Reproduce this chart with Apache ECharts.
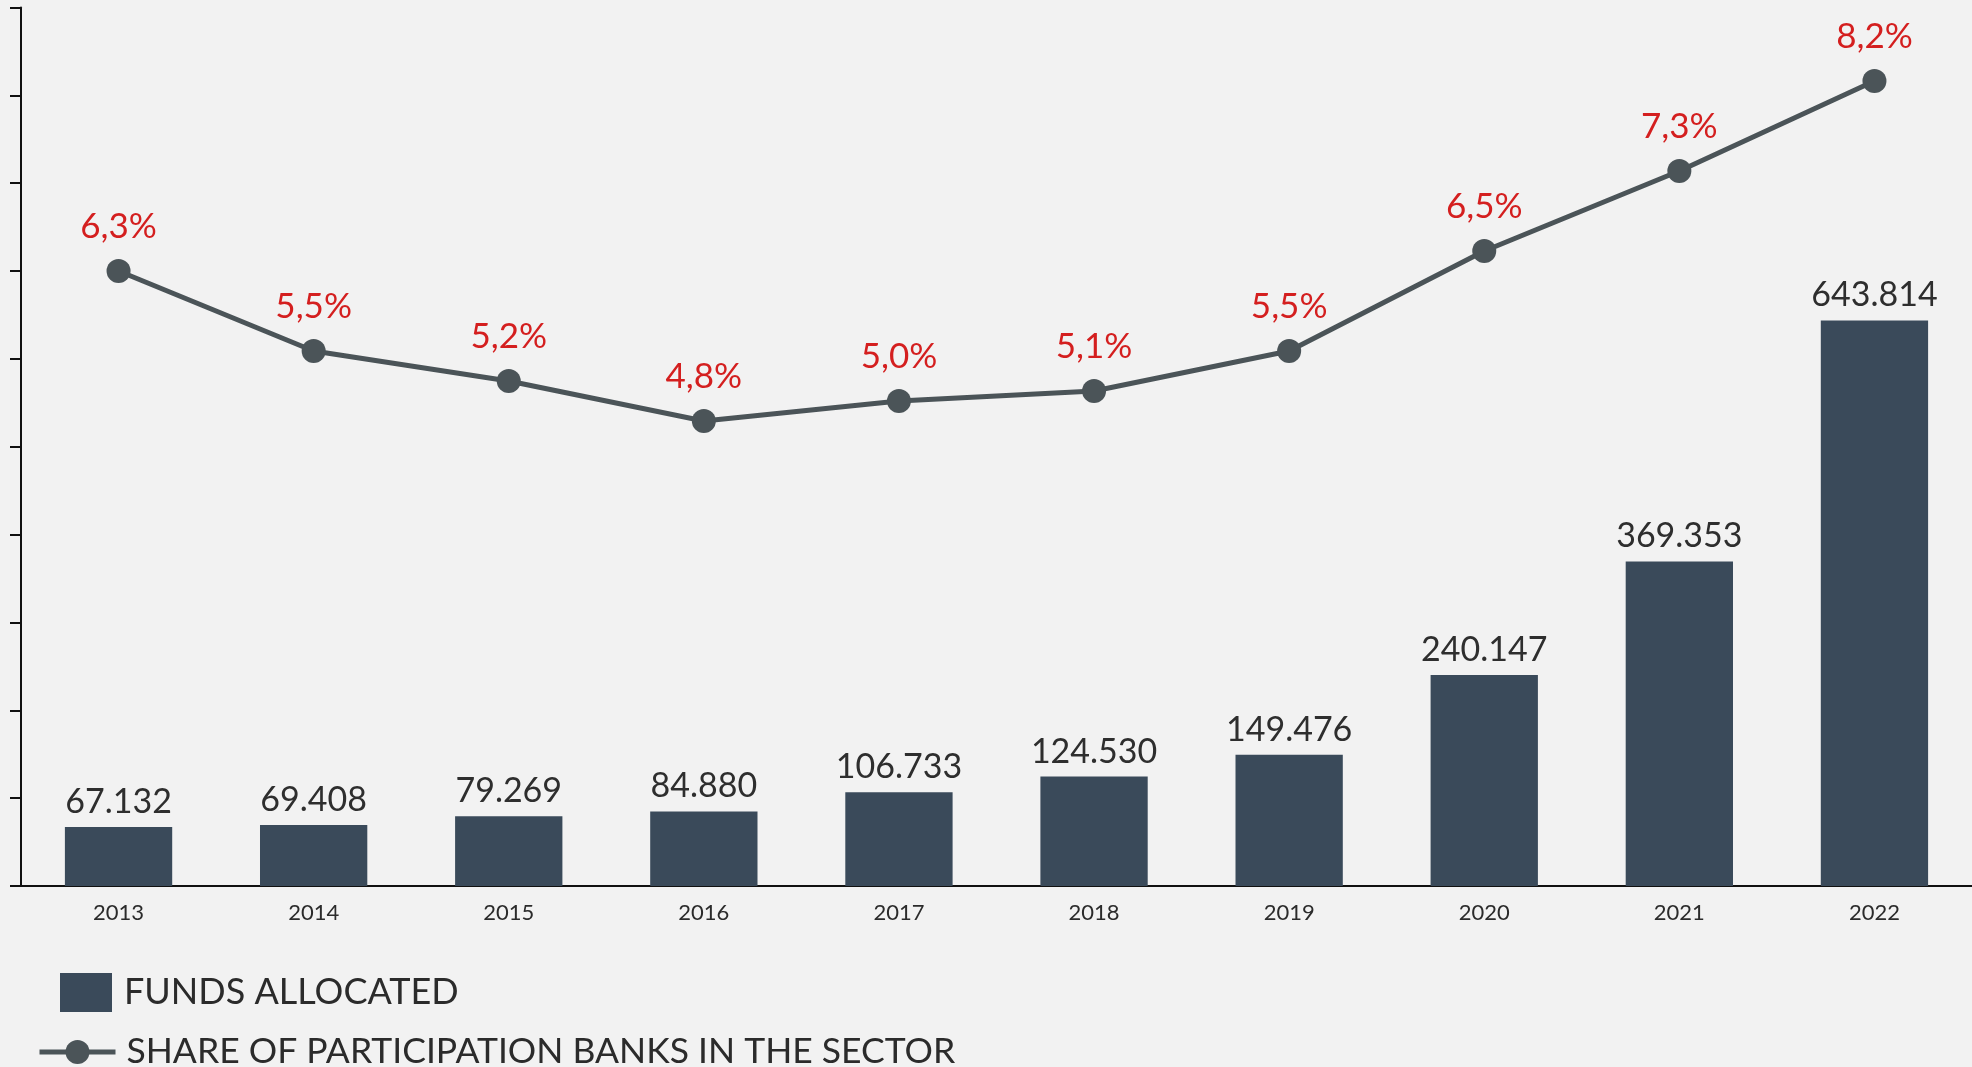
<!DOCTYPE html>
<html>
<head>
<meta charset="utf-8">
<script src="https://cdn.jsdelivr.net/npm/echarts@6/dist/echarts.min.js"></script>
<style>
  html, body { margin: 0; padding: 0; background: #f2f2f2; }
  #main { width: 1972px; height: 1067px; }
</style>
</head>
<body>
<div id="main"></div>
<script>
// data
const years = ["2013", "2014", "2015", "2016", "2017", "2018", "2019", "2020", "2021", "2022"];
const funds = [67.132, 69.408, 79.269, 84.880, 106.733, 124.530, 149.476, 240.147, 369.353, 643.814];
const share = [6.3, 5.5, 5.2, 4.8, 5.0, 5.1, 5.5, 6.5, 7.3, 8.2];

const FONT = "Lato";

let option = {
  backgroundColor: "#f2f2f2",
  animation: false,
  textStyle: { fontFamily: FONT },
  grid: {
    left: 21,
    top: 7.5,
    width: 1953,
    bottom: 181,
  },
  legend: [
    {
      data: [{ name: "FUNDS ALLOCATED", icon: "rect" }],
      left: 60,
      top: 973,
      padding: 0,
      itemWidth: 52,
      itemHeight: 39,
      itemGap: 0,
      textStyle: { fontSize: 36, color: "#2b2b2b", fontFamily: FONT, padding: [0, 0, 0, 7] },
    },
    {
      data: ["SHARE OF PARTICIPATION BANKS IN THE SECTOR"],
      left: 37,
      top: 1034,
      padding: 0,
      itemWidth: 76,
      itemHeight: 30,
      lineStyle: { width: 5 },
      textStyle: { fontSize: 35.5, color: "#2b2b2b", fontFamily: FONT, padding: [0, 0, 0, 6] },
    },
  ],
  xAxis: [
    {
      type: "category",
      data: years,
      axisLine: { lineStyle: { color: "#111", width: 2 } },
      axisTick: { show: false },
      axisLabel: { fontSize: 22, color: "#2b2b2b", margin: 16, fontFamily: FONT },
    },
  ],
  yAxis: [
    {
      type: "value",
      min: 0,
      max: 1000,
      interval: 100,
      axisLine: { show: true, lineStyle: { color: "#111", width: 2 } },
      axisTick: { show: true, length: 11, lineStyle: { color: "#111", width: 2 } },
      axisLabel: { show: false },
      splitLine: { show: false },
    },
    {
      // hidden scale for the share line
      type: "value",
      min: 0.15,
      max: 8.935,
      show: false,
      splitLine: { show: false },
    },
  ],
  series: [
    {
      name: "FUNDS ALLOCATED",
      type: "bar",
      barWidth: "55%",
      itemStyle: { color: "#3a4a5a" },
      label: {
        show: true,
        position: "top",
        distance: 8,
        fontSize: 34,
        color: "#2e2e2e",
        fontFamily: FONT,
        formatter: (p) => p.value.toFixed(3),
      },
      data: funds,
    },
    {
      name: "SHARE OF PARTICIPATION BANKS IN THE SECTOR",
      type: "line",
      yAxisIndex: 1,
      symbol: "circle",
      symbolSize: 24,
      lineStyle: { color: "#4b5458", width: 5 },
      itemStyle: { color: "#4b5458" },
      label: {
        show: true,
        position: "top",
        distance: 15,
        fontSize: 35,
        color: "#d41f1f",
        fontFamily: FONT,
        formatter: (p) => p.value.toFixed(1).replace(".", ",") + "%",
      },
      data: share,
    },
  ],
};

var myChart = echarts.init(document.getElementById("main"));
myChart.setOption(option);
</script>
</body>
</html>
